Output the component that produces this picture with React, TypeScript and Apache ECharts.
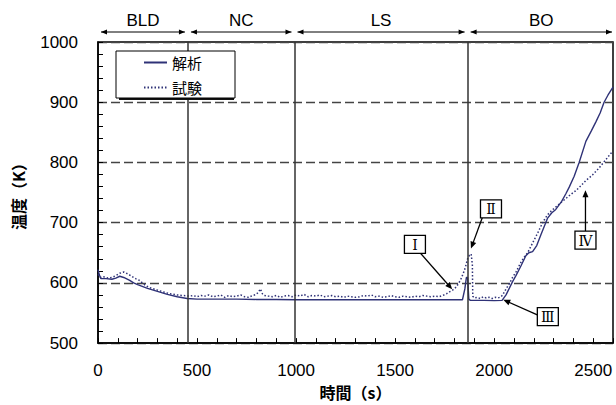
import React, { useEffect, useRef } from "react";
import * as echarts from "echarts";

// ---- data ----
const phaseNames = ["BLD", "NC", "LS", "BO"];
const phaseBounds = [0, 454, 992, 1866, 2600];

const analysisTime = [
  0, 8, 15, 40, 70, 90, 110, 130, 160, 180, 200, 250, 300, 350, 400, 450, 500, 600, 700, 800, 900, 1000,
  1200, 1400, 1600, 1800, 1840, 1852, 1860, 1866, 1872, 1880, 1950, 2000, 2040, 2060, 2093, 2110, 2135,
  2160, 2175, 2194, 2215, 2236, 2269, 2290, 2311, 2340, 2362, 2379, 2404, 2429, 2463, 2490, 2513, 2535,
  2555, 2575, 2600,
];
const analysisTemp = [
  622, 612, 607, 607, 606, 608, 611, 609, 604, 600, 597, 591, 586, 581, 577, 574, 573, 573, 573, 572.5,
  572.5, 572, 572, 572, 572, 572, 572, 590, 609, 609, 573, 571, 571, 570.5, 571, 580, 602, 612, 628, 645,
  650, 652, 662, 680, 707, 716, 722, 735, 748, 759, 777, 800, 835, 852, 867, 882, 900, 912, 925,
];

const testTime = [
  0, 10, 30, 50, 70, 90, 110, 130, 150, 170, 190, 210, 230, 250, 270, 300, 330, 360, 400, 430, 460, 480,
  500, 520, 540, 560, 580, 600, 620, 640, 660, 680, 700, 720, 740, 760, 780, 800, 810, 820, 830, 840, 860,
  880, 900, 920, 940, 960, 980, 1000, 1020, 1040, 1060, 1080, 1100, 1120, 1140, 1160, 1180, 1200, 1220,
  1240, 1260, 1280, 1300, 1320, 1340, 1360, 1380, 1400, 1420, 1440, 1460, 1480, 1500, 1520, 1540, 1560,
  1580, 1600, 1620, 1640, 1660, 1680, 1700, 1720, 1740, 1760, 1774, 1790, 1808, 1822, 1833, 1842, 1850,
  1858, 1866, 1876, 1884, 1890, 1892, 1900, 1915, 1930, 1945, 1960, 1975, 1990, 2005, 2020, 2035, 2043,
  2060, 2077, 2093, 2110, 2135, 2150, 2169, 2186, 2203, 2220, 2236, 2252, 2269, 2290, 2311, 2336, 2362,
  2387, 2412, 2440, 2463, 2496, 2530, 2560, 2589, 2600,
];
const testTemp = [
  614, 609, 610, 608, 609, 612, 616, 618, 615, 611, 607, 604, 598, 594, 591, 588, 585, 582, 580, 579, 578,
  579, 577, 579, 578, 580, 577, 578, 580, 576, 579, 577, 578, 580, 577, 576, 579, 581, 585, 590, 582, 579,
  578, 577, 579, 576, 578, 579, 577, 580, 578, 581, 577, 579, 578, 580, 577, 578, 579, 577, 578, 576, 578,
  577, 576, 577, 579, 578, 580, 577, 578, 576, 577, 579, 577, 576, 578, 577, 576, 578, 577, 579, 578, 577,
  578, 577, 579, 582, 585, 588, 593, 600, 607, 614, 621, 630, 640, 646, 648, 630, 578, 575, 576, 574, 577,
  575, 576, 574, 576, 575, 577, 580, 590, 599, 609, 618, 634, 642, 650, 661, 672, 683, 694, 704, 713, 720,
  726, 733, 740, 747, 753, 762, 770, 779, 791, 803, 815, 818,
];

const seriesNames = ["解析", "試験"];
const xLabelStep = 500;

// annotation anchors in data space
const annotations = [
  { label: "Ⅰ", box: [1600, 664], from: [1626, 650], to: [1788, 589.5] },
  { label: "Ⅱ", box: [1984, 723], from: [1940, 708], to: [1883, 657] },
  { label: "Ⅲ", box: [2271, 544], from: [2218, 547], to: [2046, 572] },
  { label: "Ⅳ", box: [2461, 671], from: [2461, 686], to: [2461, 754] },
];

const NAVY = "#2f3277";
const FONT = "'Liberation Sans', Arial, sans-serif";
const CJK = "'Noto Sans CJK JP', sans-serif";

function zip(a: number[], b: number[]) {
  return a.map((t, i) => [t, b[i]]);
}

function arrowHead(tip: number[], from: number[], len: number, half: number) {
  const dx = tip[0] - from[0];
  const dy = tip[1] - from[1];
  const d = Math.hypot(dx, dy) || 1;
  const ux = dx / d;
  const uy = dy / d;
  const bx = tip[0] - ux * len;
  const by = tip[1] - uy * len;
  return {
    type: "polygon",
    silent: true,
    z: 100,
    shape: {
      points: [
        [tip[0], tip[1]],
        [bx - uy * half, by + ux * half],
        [bx + uy * half, by - ux * half],
      ],
    },
    style: { fill: "#000" },
  };
}

export default function App() {
  const ref = useRef<HTMLDivElement>(null);
  useEffect(() => {
    if (!ref.current) return;
    const chart = echarts.init(ref.current, null, { renderer: "svg" });
    const legendLeft = 116;
    const legendTop = 51;
    const option: any = {
      animation: false,
      backgroundColor: "#fff",
      grid: {
        left: 98,
        right: 3,
        top: 42,
        bottom: 56,
        show: true,
        borderColor: "#000",
        borderWidth: 1.5,
        backgroundColor: "transparent",
      },
      legend: {
        orient: "vertical",
        left: legendLeft,
        top: legendTop,
        data: seriesNames,
        itemWidth: 23,
        itemHeight: 10,
        itemGap: 10,
        padding: [4, 33, 3, 27],
        backgroundColor: "#fff",
        borderColor: "#000",
        borderWidth: 1,
        itemStyle: { opacity: 0 },
        textStyle: { fontSize: 15, color: "#000", fontFamily: CJK },
        z: 20,
      },
      xAxis: {
        type: "value",
        min: 0,
        max: 2600,
        interval: 100,
        name: "時間（s）",
        nameLocation: "middle",
        nameGap: 34,
        nameTextStyle: { fontSize: 16, fontWeight: "bold", color: "#000", fontFamily: CJK },
        axisLine: { lineStyle: { color: "#000", width: 1.5 } },
        axisTick: { inside: true, length: 5, lineStyle: { color: "#000", width: 1 } },
        axisLabel: {
          formatter: (v: number) => (v % xLabelStep === 0 ? String(v) : ""),
          fontSize: 17,
          color: "#000",
          margin: 19,
          fontFamily: FONT,
        },
        splitLine: { show: false },
      },
      yAxis: {
        type: "value",
        min: 500,
        max: 1000,
        interval: 100,
        name: "温度（K）",
        nameLocation: "middle",
        nameGap: 72,
        nameRotate: 90,
        nameTextStyle: { fontSize: 16, fontWeight: "bold", color: "#000", fontFamily: CJK },
        axisLine: { show: true, lineStyle: { color: "#000", width: 1.5 } },
        axisTick: { show: true, inside: true, length: 5, lineStyle: { color: "#000", width: 1 } },
        minorTick: { show: true, splitNumber: 5, length: 5, lineStyle: { color: "#000", width: 1 } },
        axisLabel: {
          formatter: (v: number) => String(v),
          fontSize: 17,
          color: "#000",
          margin: 20,
          fontFamily: FONT,
        },
        splitLine: { show: true, lineStyle: { color: "#444", type: [9, 4], width: 1.3 } },
      },
      series: [
        {
          name: seriesNames[0],
          type: "line",
          data: zip(analysisTime, analysisTemp),
          symbol: "none",
          lineStyle: { color: NAVY, width: 1.4 },
          itemStyle: { color: NAVY },
          z: 3,
          markLine: {
            silent: true,
            symbol: ["none", "none"],
            label: { show: false },
            lineStyle: { color: "#333", type: "solid", width: 1.5 },
            data: phaseBounds.slice(1, -1).map((b) => ({ xAxis: b })),
          },
        },
        {
          name: seriesNames[1],
          type: "line",
          data: zip(testTime, testTemp),
          symbol: "none",
          lineStyle: { color: NAVY, width: 1.5, type: [1.5, 2] },
          itemStyle: { color: NAVY },
          z: 3,
        },
      ],
    };
    chart.setOption(option);

    const px = (t: number, v: number) =>
      chart.convertToPixel({ xAxisIndex: 0, yAxisIndex: 0 }, [t, v]) as number[];

    const graphics: any[] = [];
    // legend drop shadow
    graphics.push({
      type: "rect",
      silent: true,
      z: 10,
      shape: { x: legendLeft + 3, y: legendTop + 3, width: 115, height: 46 },
      style: { fill: "#111" },
    });
    const top = px(0, 1000)[1];
    const arrowY = top - 10;
    const labelY = top - 22;
    for (let i = 0; i < phaseNames.length; i++) {
      const xa = px(phaseBounds[i], 1000)[0] + 3;
      const xb = px(phaseBounds[i + 1], 1000)[0] - (i === phaseNames.length - 1 ? 1 : 3);
      graphics.push({
        type: "line",
        silent: true,
        shape: { x1: xa, y1: arrowY, x2: xb, y2: arrowY },
        style: { stroke: "#000", lineWidth: 1 },
      });
      graphics.push(arrowHead([xa, arrowY], [xb, arrowY], 6, 2.6));
      graphics.push(arrowHead([xb, arrowY], [xa, arrowY], 6, 2.6));
      graphics.push({
        type: "text",
        silent: true,
        x: (xa + xb) / 2,
        y: labelY,
        style: {
          text: phaseNames[i],
          fontSize: 17,
          fontFamily: FONT,
          fill: "#000",
          align: "center",
          verticalAlign: "middle",
        },
      });
    }

    for (const a of annotations) {
      const c = px(a.box[0], a.box[1]);
      const f = px(a.from[0], a.from[1]);
      const t = px(a.to[0], a.to[1]);
      const len = Math.hypot(t[0] - f[0], t[1] - f[1]);
      const ux = (t[0] - f[0]) / len;
      const uy = (t[1] - f[1]) / len;
      graphics.push({
        type: "line",
        silent: true,
        z: 100,
        shape: { x1: f[0], y1: f[1], x2: t[0] - ux * 5, y2: t[1] - uy * 5 },
        style: { stroke: "#000", lineWidth: 1.3 },
      });
      graphics.push(arrowHead(t, f, 7, 3));
      const w = 21;
      const h = 18;
      graphics.push({
        type: "rect",
        silent: true,
        z: 100,
        shape: { x: c[0] - w / 2, y: c[1] - h / 2, width: w, height: h },
        style: { fill: "#fff", stroke: "#000", lineWidth: 1.3 },
      });
      graphics.push({
        type: "text",
        silent: true,
        z: 101,
        x: c[0],
        y: c[1] + 0.5,
        style: {
          text: a.label,
          fontSize: 14,
          fontFamily: "'DejaVu Serif', serif",
          fill: "#000",
          align: "center",
          verticalAlign: "middle",
        },
      });
    }
    chart.setOption({ graphic: graphics });

    return () => chart.dispose();
  }, []);
  return (
    <div
      ref={ref}
      style={{ position: "fixed", left: 0, top: 0, width: 616, height: 405 }}
    />
  );
}
